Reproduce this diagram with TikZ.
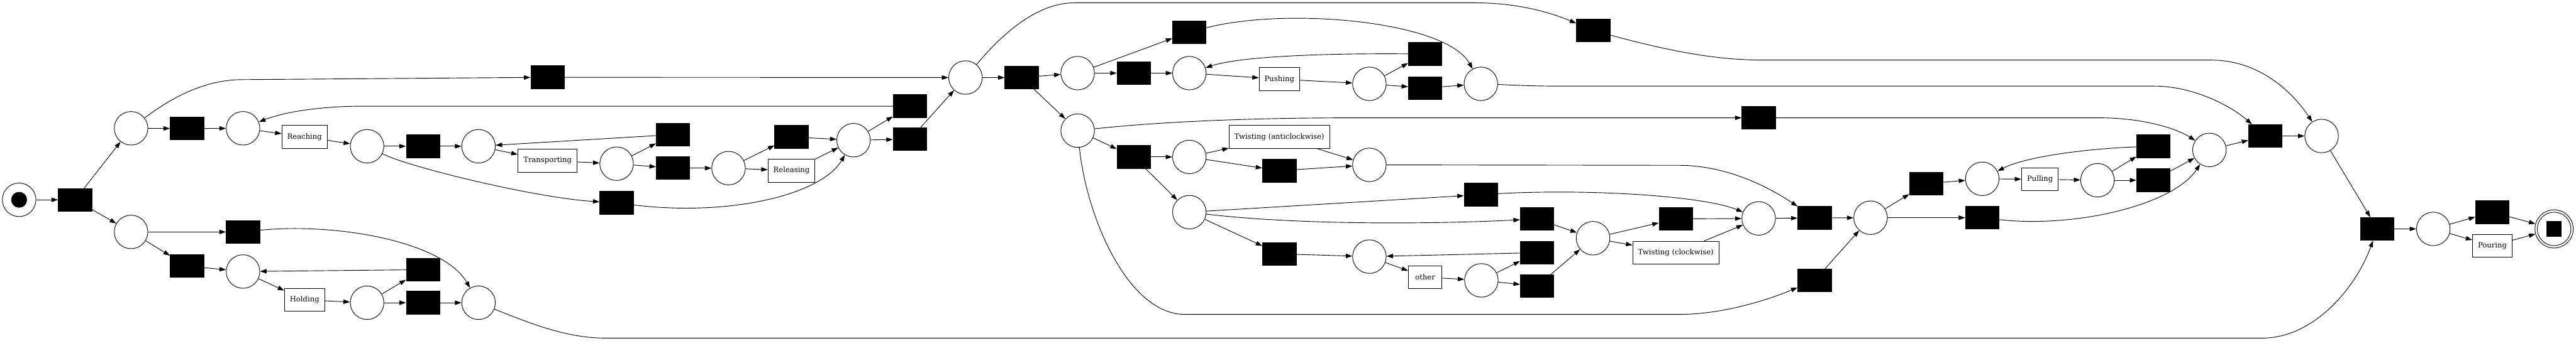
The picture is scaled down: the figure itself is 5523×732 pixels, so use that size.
\documentclass[tikz,border=0pt]{standalone}
\usepackage{fontspec}
\setmainfont{DejaVu Serif}
\usepackage{tikz}
\usetikzlibrary{arrows.meta}

\begin{document}
\begin{tikzpicture}[x=0.02cm, y=-0.02cm, line width=0.7pt,
		pl/.style={circle, draw, minimum size=1.44cm, inner sep=0pt},
		tr/.style={rectangle, draw, fill=black, minimum width=1.44cm, minimum height=0.98cm, inner sep=0pt},
		act/.style={rectangle, draw, minimum width=1.44cm, minimum height=0.98cm, inner xsep=0.23cm, inner ysep=0pt, font=\fontsize{8.9}{10}\selectfont},
		arr/.style={-{Triangle[length=0.28cm, width=0.19cm]}}]
		%%%%% START %%%%%
		
		\useasboundingbox (0, 0) rectangle (5523, 732);
		
		\node[pl] (src) at (41, 429) {};
		\node[circle, fill=black, minimum size=0.68cm, inner sep=0pt] (token) at (src) {};
		\node[tr] (t0) at (161, 429) {};
		\node[pl] (p1) at (281, 275.5) {};
		\node[pl] (p2) at (281, 498) {};
		\node[tr] (t1) at (401, 276) {};
		\node[tr] (t3) at (401, 571) {};
		\node[pl] (p3) at (521, 275.5) {};
		\node[tr] (t2) at (521, 498) {};
		\node[pl] (p4) at (521, 583) {};
		\node[act] (reaching) at (653, 294) {Reaching};
		\node[act] (holding) at (653, 644) {Holding};
		\node[pl] (p5) at (787, 314) {};
		\node[pl] (p6) at (787, 650) {};
		\node[tr] (t5) at (907, 314) {};
		\node[tr] (thl) at (907, 579) {};
		\node[tr] (th2) at (907, 650) {};
		\node[pl] (p7) at (1026, 314) {};
		\node[pl] (p8) at (1026, 650) {};
		\node[tr] (t4) at (1174, 166) {};
		\node[act] (transporting) at (1174, 345) {Transporting};
		\node[pl] (p9) at (1322, 351.5) {};
		\node[tr] (t8) at (1322, 435.5) {};
		\node[tr] (t6) at (1443, 289) {};
		\node[tr] (t7) at (1443, 361) {};
		\node[pl] (p11) at (1562, 361) {};
		\node[tr] (t10) at (1697, 294) {};
		\node[act] (releasing) at (1697, 366.5) {Releasing};
		\node[pl] (p13) at (1830, 301) {};
		\node[tr] (t11) at (1951, 228) {};
		\node[tr] (t12) at (1951, 299) {};
		\node[pl] (p15) at (2070, 166.5) {};
		\node[tr] (t13) at (2190.6, 166.5) {};
		\node[pl] (p16) at (2310.5, 157) {};
		\node[pl] (p17) at (2310.5, 280.5) {};
		
		\node[tr] (t14) at (2550, 69) {};
		\node[tr] (t15) at (2431, 157) {};
		\node[tr] (t18) at (2431, 337) {};
		\node[pl] (p18) at (2550, 157) {};
		\node[pl] (p21) at (2550, 337) {};
		\node[pl] (p23) at (2550, 455.5) {};
		\node[act] (pushing) at (2743, 170) {Pushing};
		\node[act] (twistacw) at (2743, 294) {Twisting (anticlockwise)};
		\node[tr] (t19) at (2743, 366.5) {};
		\node[tr] (t20) at (2743, 545) {};
		\node[pl] (p19) at (2936, 180) {};
		\node[pl] (p22) at (2936, 354) {};
		\node[pl] (p24) at (2936, 551) {};
		\node[tr] (t16) at (3055.6, 116) {};
		\node[tr] (t17) at (3055.6, 189) {};
		\node[act] (other) at (3055.6, 595) {other};
		\node[pl] (p20) at (3175, 180) {};
		\node[tr] (t21) at (3175, 418) {};
		\node[pl] (p25) at (3176, 602) {};
		\node[tr] (t22) at (3295.5, 470) {};
		\node[tr] (t23) at (3295.5, 542.5) {};
		\node[tr] (t24) at (3295.5, 614.5) {};
		\node[tr] (ttop) at (3416, 65.5) {};
		\node[pl] (p26) at (3415.5, 511.5) {};
		\node[tr] (t25) at (3593, 470) {};
		\node[act] (twistcw) at (3593, 542.5) {Twisting (clockwise)};
		\node[tr] (tfar) at (3770.6, 253) {};
		\node[pl] (p27) at (3770.6, 469) {};
		\node[tr] (t26) at (3890.5, 468) {};
		\node[tr] (t27) at (3890.5, 602) {};
		
		\node[pl] (p28) at (4010.5, 467.5) {};
		\node[tr] (t28) at (4130, 394.5) {};
		\node[pl] (p30) at (4250, 384) {};
		\node[tr] (t31) at (4250, 467.5) {};
		\node[act] (pulling) at (4373.7, 385) {Pulling};
		\node[pl] (p31) at (4497, 387) {};
		\node[tr] (t29) at (4617, 314) {};
		\node[tr] (t30) at (4617, 387) {};
		\node[pl] (p29) at (4737, 322) {};
		\node[tr] (t32) at (4857, 292) {};
		\node[pl] (p32) at (4977.6, 292) {};
		\node[tr] (t33) at (5097, 491.5) {};
		\node[pl] (p33) at (5217, 491.5) {};
		\node[tr] (t34) at (5343.6, 455.5) {};
		\node[act] (pouring) at (5343.6, 527.5) {Pouring};
		\node[pl, minimum size=1.64cm] (sink) at (5476, 491.5) {};
		\node[pl] (sinkring) at (sink) {};
		\node[fill=black, minimum size=0.66cm, inner sep=0pt] (sinkmark) at (sink) {};
		
		\draw[arr] (src) -- (t0);
		\draw[arr] (t0) -- (p1);
		\draw[arr] (t0) -- (p2);
		\draw[arr] (p1) -- (t1);
		\draw[arr] (t1) -- (p3);
		\draw[arr] (p1) .. controls (380, 200) and (450, 171) .. (519, 171) -- (t4);
		\draw[arr] (t4) -- (p15);
		\draw[arr] (p3) -- (reaching);
		\draw[arr] (reaching) -- (p5);
		\draw[arr] (t11) -- (776, 228) .. controls (690, 228) and (610, 240) .. (p3);
		\draw[arr] (p5) -- (t5);
		\draw[arr] (t5) -- (p7);
		\draw[arr] (p5) .. controls (880, 360) and (1150, 425) .. (t8);
		\draw[arr] (t8) .. controls (1560, 465) and (1760, 420) .. (p13);
		\draw[arr] (p7) -- (transporting);
		\draw[arr] (transporting) -- (p9);
		\draw[arr] (p9) -- (t6);
		\draw[arr] (t6) -- (p7);
		\draw[arr] (p9) -- (t7);
		\draw[arr] (t7) -- (p11);
		\draw[arr] (p11) -- (t10);
		\draw[arr] (t10) -- (p13);
		\draw[arr] (p11) -- (releasing);
		\draw[arr] (releasing) -- (p13);
		\draw[arr] (p13) -- (t11);
		\draw[arr] (p13) -- (t12);
		\draw[arr] (t12) -- (p15);
		
		\draw[arr] (p2) -- (t2);
		\draw[arr] (t2) .. controls (720, 478) and (950, 518) .. (p8);
		\draw[arr] (p2) -- (t3);
		\draw[arr] (t3) -- (p4);
		\draw[arr] (p4) -- (holding);
		\draw[arr] (holding) -- (p6);
		\draw[arr] (p6) -- (thl);
		\draw[arr] (thl) -- (p4);
		\draw[arr] (p6) -- (th2);
		\draw[arr] (th2) -- (p8);
		\draw[arr] (p8) .. controls (1150, 700) and (1220, 726) .. (1300, 726) -- (4850, 726) .. controls (4960, 726) and (5050, 620) .. (t33);
		
		\draw[arr] (p15) -- (t13);
		\draw[arr] (p15) .. controls (2160, 60) and (2230, 6) .. (2305, 6) -- (3160, 6) .. controls (3250, 6) and (3320, 25) .. (ttop);
		\draw[arr] (t13) -- (p16);
		\draw[arr] (t13) -- (p17);
		\draw[arr] (p16) -- (t14);
		\draw[arr] (p16) -- (t15);
		\draw[arr] (t15) -- (p18);
		\draw[arr] (t14) .. controls (2760, 15) and (3100, 45) .. (p20);
		\draw[arr] (p18) -- (pushing);
		\draw[arr] (pushing) -- (p19);
		\draw[arr] (p19) -- (t16);
		\draw[arr] (t16) .. controls (2800, 114) and (2650, 124) .. (p18);
		\draw[arr] (p19) -- (t17);
		\draw[arr] (t17) -- (p20);
		\draw[arr] (p20) .. controls (3300, 185) .. (3400, 185) -- (4620, 185) .. controls (4700, 185) and (4780, 225) .. (t32);
		
		\draw[arr] (p17) .. controls (2500, 260) and (2700, 253) .. (2900, 253) -- (tfar);
		\draw[arr] (tfar) -- (4500, 253) .. controls (4600, 253) and (4670, 278) .. (p29);
		\draw[arr] (p17) -- (t18);
		\draw[arr] (p17) .. controls (2330, 470) and (2420, 675) .. (2540, 675) -- (3600, 675) .. controls (3700, 675) and (3800, 640) .. (t27);
		\draw[arr] (t18) -- (p21);
		\draw[arr] (t18) -- (p23);
		\draw[arr] (p21) -- (twistacw);
		\draw[arr] (twistacw) -- (p22);
		\draw[arr] (p21) -- (t19);
		\draw[arr] (t19) -- (p22);
		\draw[arr] (p22) -- (3600, 355) .. controls (3700, 355) and (3790, 400) .. (t26);
		\draw[arr] (p23) -- (t21);
		\draw[arr] (t21) .. controls (3400, 405) and (3650, 420) .. (p27);
		\draw[arr] (p23) .. controls (2800, 485) and (3100, 480) .. (t22);
		\draw[arr] (p23) -- (t20);
		\draw[arr] (t20) -- (p24);
		\draw[arr] (p24) -- (other);
		\draw[arr] (other) -- (p25);
		\draw[arr] (p25) -- (t23);
		\draw[arr] (t23) -- (p24);
		\draw[arr] (p25) -- (t24);
		\draw[arr] (t24) -- (p26);
		\draw[arr] (t22) -- (p26);
		\draw[arr] (p26) -- (t25);
		\draw[arr] (t25) -- (p27);
		\draw[arr] (p26) -- (twistcw);
		\draw[arr] (twistcw) -- (p27);
		\draw[arr] (p27) -- (t26);
		\draw[arr] (t26) -- (p28);
		\draw[arr] (t27) -- (p28);
		
		\draw[arr] (p28) -- (t28);
		\draw[arr] (t28) -- (p30);
		\draw[arr] (p28) -- (t31);
		\draw[arr] (t31) .. controls (4450, 490) and (4660, 440) .. (p29);
		\draw[arr] (p30) -- (pulling);
		\draw[arr] (pulling) -- (p31);
		\draw[arr] (p31) -- (t29);
		\draw[arr] (t29) .. controls (4460, 320) and (4340, 338) .. (p30);
		\draw[arr] (p31) -- (t30);
		\draw[arr] (t30) -- (p29);
		\draw[arr] (p29) -- (t32);
		\draw[arr] (t32) -- (p32);
		\draw[arr] (ttop) .. controls (3580, 110) and (3680, 129) .. (3780, 129) -- (4740, 129) .. controls (4850, 129) and (4920, 205) .. (p32);
		\draw[arr] (p32) -- (t33);
		\draw[arr] (t33) -- (p33);
		\draw[arr] (p33) -- (t34);
		\draw[arr] (t34) -- (sink);
		\draw[arr] (p33) -- (pouring);
		\draw[arr] (pouring) -- (sink);
		
		%%%%% END %%%%%
	\end{tikzpicture}
\end{document}
